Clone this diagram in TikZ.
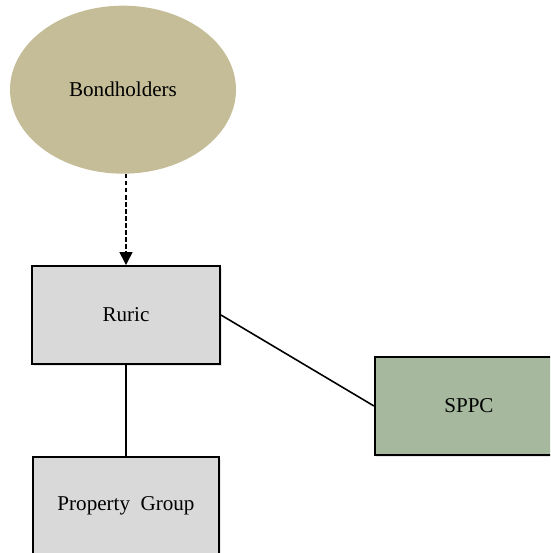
\documentclass[tikz,border=0pt]{standalone}
\usepackage{fontspec}
\setmainfont{Liberation Serif}
\usepackage{tikz}
\usetikzlibrary{arrows.meta,positioning,shapes.geometric,shadows}
\definecolor{BondTan}{HTML}{C4BD97}
\definecolor{BoxGrey}{HTML}{D9D9D9}
\definecolor{SppcGreen}{HTML}{A6B89E}

\begin{document}
\begin{tikzpicture}[
  partybox/.style={draw=black,line width=1.1pt,fill=BoxGrey,minimum width=3.76cm,minimum height=1.96cm,font=\fontsize{12}{14}\selectfont,
    drop shadow={shadow xshift=0.03cm,shadow yshift=-0.05cm,opacity=0.18}},
  holders/.style={ellipse,fill=BondTan,minimum width=4.52cm,minimum height=3.36cm,inner sep=0pt,font=\fontsize{12}{14}\selectfont},
  link/.style={draw=black,line width=0.9pt},
  claim/.style={-{Triangle[length=2.6mm,width=2.6mm]},draw=black,line width=0.9pt,dash pattern=on 2.5pt off 1.5pt}
]
\clip (0,0) rectangle (11,11.06);
\useasboundingbox (0,0) rectangle (11,11.06);
\node[partybox] (ruric) at (2.52,4.76) {Ruric};
\node[holders,above=1.82cm of ruric,xshift=-0.06cm] (bond) {Bondholders};
\node[partybox,below=1.82cm of ruric,minimum width=3.72cm] (prop) {Property\ \ Group};
\node[partybox,fill=SppcGreen,right=3.06cm of ruric,yshift=-1.82cm] (sppc) {SPPC};
\draw[claim] (ruric.north |- bond.south) -- (ruric.north);
\draw[link] (ruric.east) -- (sppc.west);
\draw[link] (ruric.south) -- (prop.north);
\end{tikzpicture}
\end{document}
